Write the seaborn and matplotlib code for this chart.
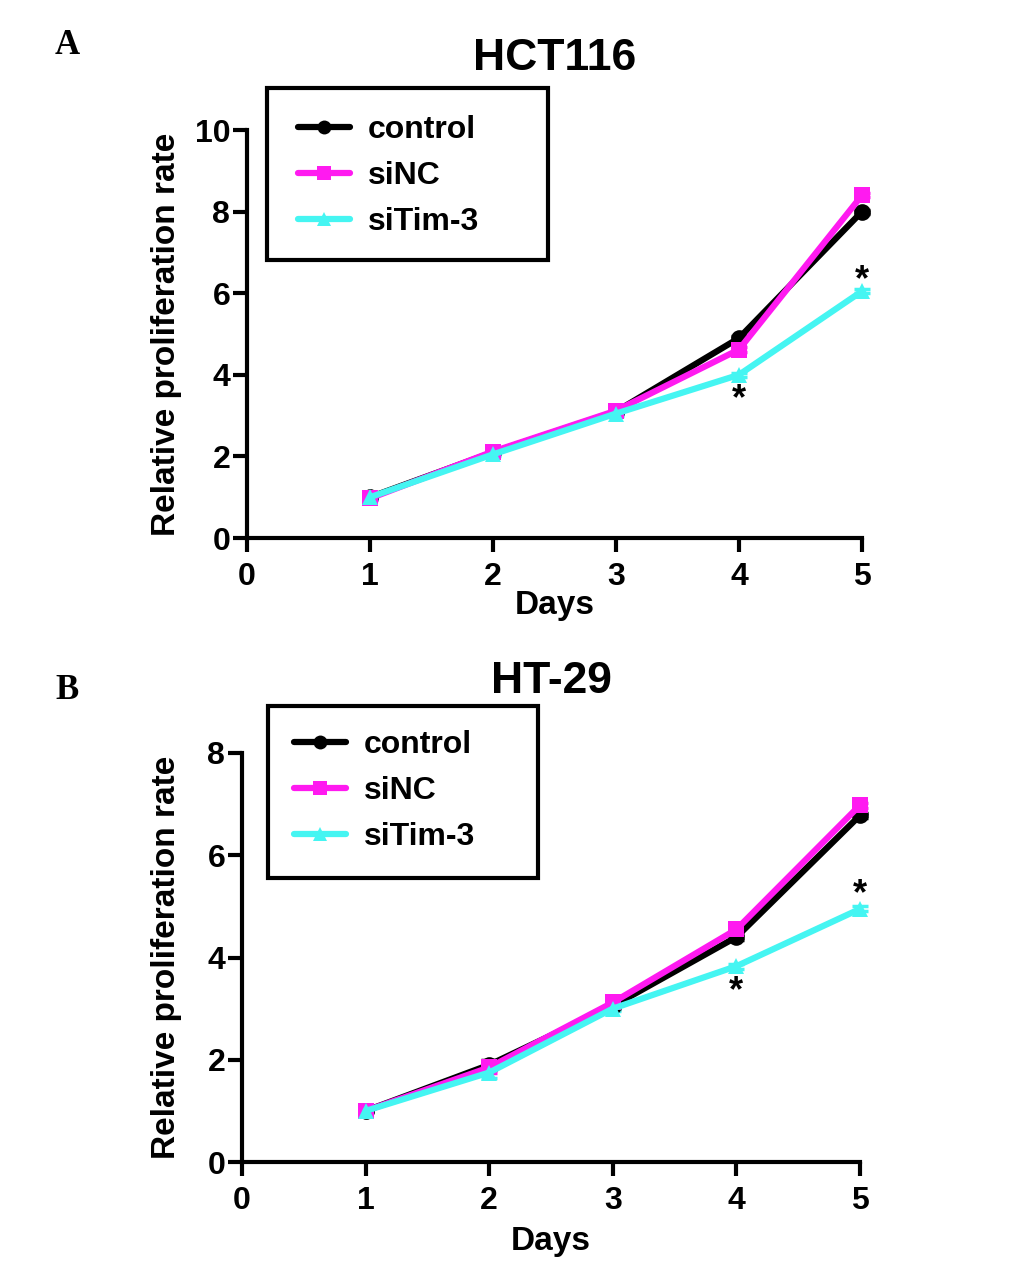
import pandas as pd
import matplotlib.pyplot as plt
import seaborn as sns
from matplotlib.lines import Line2D
from matplotlib.patches import Rectangle

days = [1, 2, 3, 4, 5]
groups = ['control', 'siNC', 'siTim-3']

# HCT116
hct_control = [1.0, 2.1, 3.1, 4.9, 8.0]
hct_sinc = [0.97, 2.12, 3.12, 4.62, 8.4]
hct_sitim = [1.0, 2.05, 3.05, 4.0, 6.05]
hct_err = [0.04, 0.05, 0.05, 0.05, 0.05]

# HT-29
ht_control = [1.0, 1.9, 3.05, 4.4, 6.78]
ht_sinc = [1.0, 1.85, 3.12, 4.55, 6.98]
ht_sitim = [1.0, 1.75, 3.0, 3.83, 4.95]
ht_err = [0.03, 0.1, 0.05, 0.05, 0.05]

# where the significance stars sit (day, value)
hct_stars = [(4, 3.4), (5, 6.3)]
ht_stars = [(4, 3.33), (5, 5.23)]

palette = {'control': '#000000', 'siNC': '#FF1AF0', 'siTim-3': '#45F5F2'}
markers = {'control': 'o', 'siNC': 's', 'siTim-3': '^'}

sns.set_style('ticks')
plt.rcParams['font.family'] = ['Liberation Sans', 'DejaVu Sans']
plt.rcParams['font.weight'] = 'bold'
for k in ['text.color', 'axes.labelcolor', 'xtick.color', 'ytick.color', 'axes.edgecolor']:
    plt.rcParams[k] = 'black'

W, H = 1033, 1272


def long_table(ctrl, sinc, sitim):
    rows = []
    for g, vals in zip(groups, [ctrl, sinc, sitim]):
        for d, v in zip(days, vals):
            rows.append({'Days': d, 'rate': v, 'group': g})
    return pd.DataFrame(rows)


def draw_panel(ax, df, err, ymax, ystep, title, stars, leg_anchor, box, ylab_x, xlab_y):
    fig = ax.figure
    for g in groups:
        sub = df[df['group'] == g]
        ax.errorbar(sub['Days'], sub['rate'], yerr=err, fmt='none',
                    ecolor=palette[g], elinewidth=2.5, capsize=6, capthick=2.5,
                    clip_on=False, zorder=2)
    sns.lineplot(data=df, x='Days', y='rate', hue='group', style='group',
                 markers=markers, dashes=False, palette=palette,
                 linewidth=4.5, markersize=12, markeredgewidth=0,
                 legend=False, ax=ax, clip_on=False, zorder=3)
    ax.set_xlim(0, 5)
    ax.set_ylim(0, ymax)
    ax.set_xticks(range(0, 6))
    ax.set_yticks(range(0, ymax + 1, ystep))
    sns.despine(ax=ax)
    for s in ['left', 'bottom']:
        ax.spines[s].set_linewidth(3)
    ax.tick_params(width=3, length=10, labelsize=23)
    ax.tick_params(axis='x', pad=7)
    ax.tick_params(axis='y', pad=2)
    for lab in ax.get_xticklabels() + ax.get_yticklabels():
        lab.set_fontweight('bold')
    ax.set_xlabel('Days', fontsize=24, fontweight='bold')
    ax.set_ylabel('Relative proliferation rate', fontsize=24, fontweight='bold')
    ax.xaxis.set_label_coords(0.5, xlab_y)
    ax.yaxis.set_label_coords(ylab_x, 0.5)
    ax.set_title(title, fontsize=32, fontweight='bold', pad=43)
    for d, y in stars:
        ax.text(d, y, '*', ha='center', va='center', fontsize=26, fontweight='bold')

    handles = [Line2D([0], [0], color=palette[g], marker=markers[g], lw=4.5,
                      markersize=10, markeredgewidth=0) for g in groups]
    leg = ax.legend(handles, groups, loc='upper left', bbox_to_anchor=leg_anchor,
                    bbox_transform=fig.transFigure, fontsize=23, frameon=False,
                    handlelength=1.63, handletextpad=0.56, labelspacing=0.5,
                    borderpad=0, borderaxespad=0)
    for t in leg.get_texts():
        t.set_fontweight('bold')
    x0, y0, x1, y1 = box
    fig.add_artist(Rectangle((x0 / W, 1 - y1 / H), (x1 - x0) / W, (y1 - y0) / H,
                             transform=fig.transFigure, fill=False,
                             edgecolor='black', linewidth=3))


fig = plt.figure(figsize=(10.33, 12.72), dpi=100)

ax1 = fig.add_axes([247 / W, 1 - 538 / H, (862 - 247) / W, (538 - 130) / H])
draw_panel(ax1, long_table(hct_control, hct_sinc, hct_sitim), hct_err, 10, 2,
           'HCT116', hct_stars, (298 / W, 1 - 115 / H), (267, 88, 548, 260),
           (182 - 247) / 615, (538 - 590) / 408)

ax2 = fig.add_axes([242 / W, 1 - 1162 / H, (860 - 242) / W, (1162 - 753) / H])
draw_panel(ax2, long_table(ht_control, ht_sinc, ht_sitim), ht_err, 8, 2,
           'HT-29', ht_stars, (294 / W, 1 - 730 / H), (268, 706, 538, 878),
           (182 - 242) / 618, (1162 - 1226) / 409)

fig.text(55 / W, 1 - 45 / H, 'A', fontsize=25, fontweight='bold',
         family=['Liberation Serif', 'DejaVu Serif'], va='center')
fig.text(55 / W, 1 - 690 / H, 'B', fontsize=25, fontweight='bold',
         family=['Liberation Serif', 'DejaVu Serif'], va='center')

fig.savefig('out.png', dpi=100, facecolor='white')
